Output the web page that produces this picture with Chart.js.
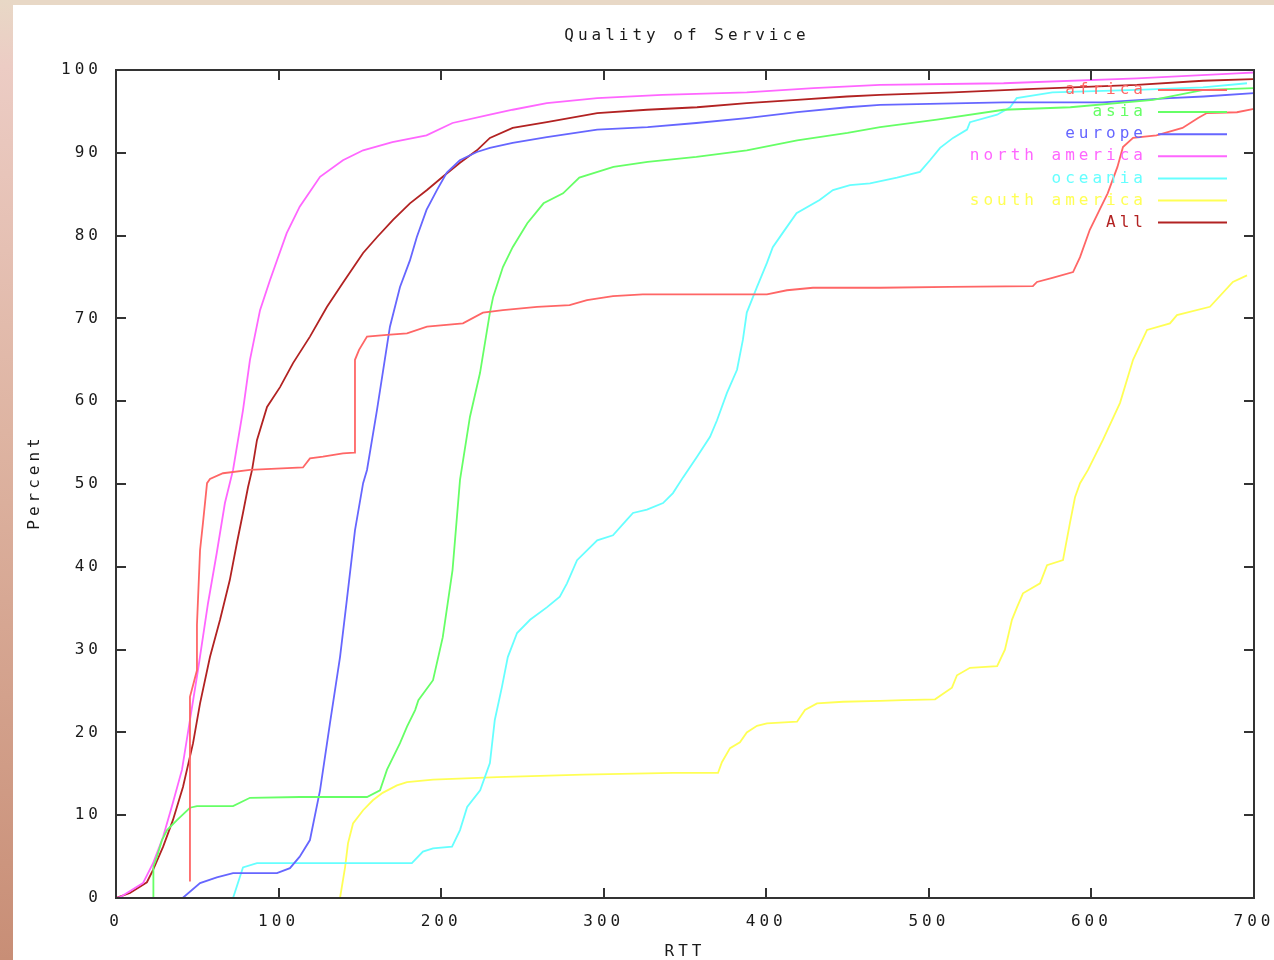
<!DOCTYPE html>
<html>
<head>
<meta charset="utf-8">
<script src="https://cdn.jsdelivr.net/npm/chart.js@4.4.1/dist/chart.umd.min.js"></script>
<style>
  html, body { margin: 0; padding: 0; background: #fff; }
  #wrap { position: absolute; left: 0; top: 0; width: 1274px; height: 960px; }
</style>
</head>
<body>
<div id="wrap"><canvas id="qosChart" width="1274" height="960"></canvas></div>
<script>
// RTT (ms) / percent pairs
const africa = [[45.5,2],[45.5,24.3],[49.8,27.5],[49.8,33],[51.7,42],[53.5,45.3],[56,50.1],[57.8,50.6],[65.8,51.3],[82.4,51.7],[115,52],[119.3,53.1],[127.3,53.3],[139.6,53.7],[146.5,53.8],[147,65],[149.5,66.2],[154.4,67.8],[166.7,68],[179,68.2],[191.3,69],[213.4,69.4],[225.7,70.7],[238,71],[259,71.4],[279,71.6],[289.7,72.2],[305.7,72.7],[324,72.9],[400.4,72.9],[412.7,73.4],[428.7,73.7],[470,73.7],[513,73.8],[564,73.9],[566.5,74.4],[576,74.9],[588.7,75.6],[593,77.4],[599,80.7],[605,83.1],[610,85.1],[616,88.3],[619.4,90.7],[625.6,91.8],[640,92.1],[656,93],[665.6,94.2],[671,94.8],[689.5,94.9],[700,95.3]];
const asia = [[17,0],[23,0],[23,3.8],[25.2,5],[28.3,7],[31.4,8.2],[37.5,9.4],[45.5,10.9],[49.8,11.1],[72,11.1],[82.4,12.1],[113,12.2],[154.4,12.2],[162.4,13],[166.7,15.5],[174.7,18.7],[179,20.7],[184,22.7],[186,23.9],[195,26.3],[201,31.5],[207,39.6],[211.6,50.5],[217.7,58.1],[223.9,63.4],[230,70.7],[232,72.6],[238,76.2],[244,78.6],[253,81.5],[263,83.9],[275,85.1],[285,87],[306,88.3],[327,88.9],[357,89.5],[388,90.3],[419,91.5],[450,92.4],[470,93.1],[505,94],[546,95.2],[587,95.5],[638,96.4],[669,97.6],[700,97.8]];
const europe = [[25,0],[41,0],[51.7,1.8],[62,2.5],[72,3],[99,3],[107,3.6],[113,5],[119.3,7],[125.5,13],[131.6,21.1],[137.8,29.1],[142,36],[147,44.4],[152,50.1],[154.4,51.7],[160.5,58.9],[168.5,69],[174.7,73.8],[180.8,77],[185,79.8],[191,83.1],[197.4,85.5],[203.5,87.6],[211.5,89.1],[222,90.1],[230,90.6],[244,91.2],[265,91.9],[296,92.8],[327,93.1],[357,93.6],[388,94.2],[419,94.9],[450,95.5],[470,95.8],[546,96.1],[607,96.1],[648,96.6],[669,96.8],[700,97.2]];
const northAmerica = [[0,0],[2.5,0.1],[16.6,1.8],[22.8,4.2],[29,7.4],[35,11.5],[40.6,15.5],[45.5,21.5],[50.4,27.5],[56.6,35.6],[62,41.7],[67,47.7],[72,51.7],[78.1,58.9],[82.4,65],[88.6,71],[94.7,74.6],[99,77],[105,80.3],[113,83.5],[125.5,87.1],[139.6,89.1],[152,90.3],[170,91.3],[191,92.1],[207,93.6],[230,94.6],[244,95.2],[265,96],[296,96.6],[336,97],[388,97.3],[429,97.8],[470,98.2],[546,98.4],[628,99],[689.5,99.6],[700,99.7]];
const oceania = [[72,0],[78.1,3.7],[86.7,4.2],[182,4.2],[188.8,5.6],[195,6],[206.7,6.2],[211.6,8.2],[216,11],[224,13],[230,16.3],[233,21.5],[237.4,25.5],[241,29.1],[246.7,32],[254.7,33.6],[265,35.1],[273,36.4],[277.4,38],[283.6,40.8],[296,43.2],[305.7,43.8],[314.3,45.7],[318,46.5],[326.6,46.9],[336.5,47.7],[342.6,48.9],[348.8,50.8],[357.4,53.3],[365.4,55.7],[369.7,57.7],[375.8,61],[382,63.8],[385.6,67.4],[388,70.7],[394.3,73.8],[400.4,76.7],[404,78.6],[410,80.3],[418.6,82.7],[432.8,84.3],[441,85.5],[451.5,86.1],[463.8,86.3],[480.4,87],[494.5,87.7],[500.7,89.1],[506.9,90.6],[514.9,91.8],[523.5,92.8],[525.3,93.7],[542,94.6],[550,95.5],[554,96.6],[576,97.3],[628,97.6],[668.6,97.9],[695.7,98.4]];
const southAmerica = [[137.8,0],[140.9,3.7],[142.7,6.6],[145.8,9],[152,10.6],[158,11.8],[164,12.7],[172.8,13.6],[179,14],[195,14.3],[234.4,14.6],[287.3,14.9],[342.6,15.1],[370.3,15.1],[372.7,16.4],[377.7,18.1],[383.8,18.8],[388,20],[394.3,20.8],[400.4,21.1],[418.9,21.3],[423.8,22.7],[431.2,23.5],[447.2,23.7],[470,23.8],[484,23.9],[503.8,24],[514.2,25.4],[517.3,26.9],[525.3,27.8],[542,28],[546.8,30],[551.1,33.6],[554.2,35.1],[557.9,36.8],[568.4,38],[572.7,40.2],[582.5,40.8],[586.8,45.3],[589.9,48.4],[593,50.1],[597.9,51.7],[607,55.3],[617.6,59.8],[625.6,65],[634.2,68.6],[648.3,69.4],[652.6,70.4],[672.9,71.4],[687,74.4],[695.7,75.2]];
const all = [[0,0],[0.6,0],[8.6,0.6],[19,1.9],[22.8,3.4],[29,6.2],[35,9.4],[41.2,13.4],[47.4,18.7],[51.7,23.5],[57.8,29.1],[64,33.6],[70,38.4],[74.4,42.9],[78.1,46.5],[81.2,49.6],[83.7,51.7],[86.7,55.3],[92.9,59.3],[100.9,61.7],[108.9,64.6],[119.3,67.8],[129.8,71.4],[139.6,74.3],[152,77.9],[160.5,79.8],[170.4,81.9],[180.8,83.9],[191.3,85.5],[201,87.1],[211.6,88.8],[222,90.3],[230,91.8],[244,93],[265,93.7],[296,94.8],[326.6,95.2],[357.4,95.5],[388,96],[418.9,96.4],[449.6,96.8],[470,97],[514.9,97.3],[560.4,97.7],[628,98.2],[668.6,98.7],[699.4,98.9]];

const seriesNames = ['africa', 'asia', 'europe', 'north america', 'oceania', 'south america', 'All'];
const seriesData = [africa, asia, europe, northAmerica, oceania, southAmerica, all];
const seriesColors = ['#ff6666', '#66ff66', '#6666ff', '#ff66ff', '#66ffff', '#ffff55', '#b22222'];

const xTicks = [0, 100, 200, 300, 400, 500, 600, 700];
const yTicks = [0, 10, 20, 30, 40, 50, 60, 70, 80, 90, 100];

const FONT = '"DejaVu Sans Mono", monospace';
const INK = '#1a1a1a';

// gnuplot look: page strips, boxed frame, inward ticks, texts, legend inside
const gnuplotLook = {
    id: 'gnuplotLook',
    beforeDraw(chart) {
        const c = chart.ctx;
        c.save();
        c.fillStyle = '#fff';
        c.fillRect(0, 0, chart.width, chart.height);
        c.fillStyle = '#e8d8c6';
        c.fillRect(0, 0, chart.width, 5);
        const g = c.createLinearGradient(0, 0, 0, chart.height);
        g.addColorStop(0, '#e8d8c6');
        g.addColorStop(0.07, '#ecccc4');
        g.addColorStop(0.45, '#deb4a2');
        g.addColorStop(1, '#c88e76');
        c.fillStyle = g;
        c.fillRect(0, 0, 13, chart.height);
        c.restore();
        chart.ctx.letterSpacing = '4px';
    },
    afterDraw(chart) {
        const c = chart.ctx;
        const a = chart.chartArea;
        const xs = chart.scales.x, ys = chart.scales.y;
        c.save();
        c.strokeStyle = '#333';
        c.lineWidth = 2;
        c.strokeRect(a.left, a.top, a.right - a.left, a.bottom - a.top);
        c.beginPath();
        xTicks.forEach(v => {
            const px = Math.round(xs.getPixelForValue(v));
            c.moveTo(px, a.bottom); c.lineTo(px, a.bottom - 10);
            c.moveTo(px, a.top); c.lineTo(px, a.top + 10);
        });
        yTicks.forEach(v => {
            const py = Math.round(ys.getPixelForValue(v));
            c.moveTo(a.left, py); c.lineTo(a.left + 10, py);
            c.moveTo(a.right, py); c.lineTo(a.right - 10, py);
        });
        c.stroke();

        c.letterSpacing = '4px';
        c.font = '16px ' + FONT;
        c.fillStyle = INK;
        c.textAlign = 'center';
        c.textBaseline = 'middle';
        c.fillText('Quality of Service', (a.left + a.right) / 2 + 2, 36);
        c.fillText('RTT', (a.left + a.right) / 2, 952);
        c.save();
        c.translate(35, (a.top + a.bottom) / 2);
        c.rotate(-Math.PI / 2);
        c.fillText('Percent', 2, 0);
        c.restore();

        // legend
        c.textAlign = 'right';
        chart.data.datasets.forEach((ds, i) => {
            const y = 90 + i * 22.1;
            c.fillStyle = ds.borderColor;
            c.fillText(ds.label, 1147, y);
            c.strokeStyle = ds.borderColor;
            c.lineWidth = 2;
            c.beginPath();
            c.moveTo(1158, y); c.lineTo(1227, y);
            c.stroke();
        });
        c.restore();
    }
};

const ctx = document.getElementById('qosChart').getContext('2d');
const qosChart = new Chart(ctx, {
    type: 'line',
    data: {
        datasets: seriesNames.map((name, i) => ({
            label: name,
            data: seriesData[i].map(p => ({ x: p[0], y: p[1] })),
            borderColor: seriesColors[i],
            backgroundColor: seriesColors[i],
            borderWidth: 1.8,
            pointRadius: 0,
            tension: 0,
            fill: false
        }))
    },
    options: {
        responsive: false,
        animation: false,
        events: [],
        layout: { padding: { left: 0, right: 20, top: 70, bottom: 0 } },
        plugins: {
            legend: { display: false },
            title: { display: false },
            tooltip: { enabled: false }
        },
        scales: {
            x: {
                type: 'linear',
                min: 0,
                max: 700,
                grid: { display: false, drawTicks: false },
                border: { display: false },
                afterBuildTicks: s => { s.ticks = xTicks.map(v => ({ value: v })); },
                afterFit: s => { s.height = 62; s.paddingLeft = 0; s.paddingRight = 0; },
                ticks: { padding: 14, maxRotation: 0, color: INK, font: { family: FONT, size: 16 } }
            },
            y: {
                min: 0,
                max: 100,
                grid: { display: false, drawTicks: false },
                border: { display: false },
                afterBuildTicks: s => { s.ticks = yTicks.map(v => ({ value: v })); },
                afterFit: s => { s.width = 116; s.paddingTop = 0; s.paddingBottom = 0; },
                ticks: { padding: 14, color: INK, font: { family: FONT, size: 16 } }
            }
        }
    },
    plugins: [gnuplotLook]
});
</script>
</body>
</html>
